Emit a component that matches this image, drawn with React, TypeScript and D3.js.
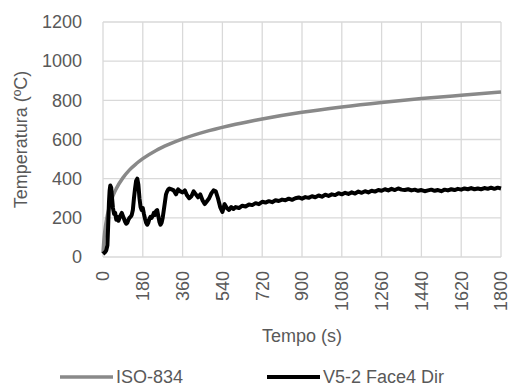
import React from "react";
import * as d3 from "d3";

const xTicks = [0, 180, 360, 540, 720, 900, 1080, 1260, 1440, 1620, 1800];
const yTicks = [0, 200, 400, 600, 800, 1000, 1200];

const isoTime = [0, 5, 10, 15, 30, 45, 60, 90, 120, 150, 180, 240, 300, 360, 480, 600, 720, 900, 1080, 1260, 1440, 1620, 1800];
const isoTemp = [20, 97, 147, 185, 261, 312, 349, 404, 445, 476, 502, 544, 576, 603, 645, 678, 705, 739, 766, 789, 809, 826, 842];

const v5Time = [
  0, 5, 10, 15, 20, 23, 27, 30, 33, 37, 41, 45, 50, 55, 60, 65, 70, 75, 80, 85, 90, 95, 100, 105, 110, 115, 120, 125, 130, 135,
  140, 145, 150, 155, 160, 165, 170, 175, 180, 185, 190, 195, 200, 205, 210, 215, 220, 225, 230, 235, 240, 245, 250, 255, 260,
  265, 270, 275, 280, 285, 290, 295, 300, 310, 320, 330, 340, 350, 360, 370, 380, 390, 400, 410, 420, 430, 440, 450, 460, 470,
  480, 490, 500, 510, 520, 530, 540, 550, 560, 570, 580, 590, 600, 615, 630, 645, 660, 675, 690, 705, 720, 735, 750, 765, 780,
  795, 810, 825, 840, 855, 870, 885, 900, 915, 930, 945, 960, 975, 990, 1005, 1020, 1035, 1050, 1065, 1080, 1095, 1110, 1125,
  1140, 1155, 1170, 1185, 1200, 1215, 1230, 1245, 1260, 1275, 1290, 1305, 1320, 1335, 1350, 1365, 1380, 1395, 1410, 1425, 1440,
  1455, 1470, 1485, 1500, 1515, 1530, 1545, 1560, 1575, 1590, 1605, 1620, 1635, 1650, 1665, 1680, 1695, 1710, 1725, 1740, 1755,
  1770, 1785, 1800,
];
const v5Temp = [
  15, 20, 25, 35, 60, 150, 280, 340, 365, 355, 300, 250, 220, 225, 190, 205, 185, 200, 215, 225, 210, 195, 180, 170, 175, 190, 200, 205, 215, 240,
  300, 350, 390, 400, 370, 300, 255, 240, 250, 220, 195, 175, 165, 175, 195, 205, 200, 210, 225, 215, 235, 240, 210, 180, 165,
  175, 200, 240, 280, 320, 335, 345, 350, 345, 340, 320, 345, 335, 330, 340, 315, 300, 310, 335, 320, 305, 320, 290, 270, 285,
  300, 325, 340, 335, 300, 255, 230, 270, 250, 240, 255, 245, 255, 250, 262, 258, 268, 265, 275, 270, 282, 278, 285, 280, 290,
  286, 293, 290, 298, 292, 300, 304, 298, 306, 302, 310, 305, 314, 308, 318, 312, 320, 316, 326, 320, 328, 322, 330,
  324, 334, 328, 336, 330, 338, 334, 342, 338, 346, 340, 348, 342, 350, 344, 342, 346, 340, 344, 338, 342,
  336, 340, 344, 338, 342, 336, 344, 340, 346, 342, 348, 344, 350, 346, 352, 346, 350, 346, 352, 348, 354,
  348, 354, 350,
];

const seriesNames = ["ISO-834", "V5-2 Face4 Dir"];

const W = 510;
const H = 388;
const L = 103;
const R = 501;
const T = 22;
const B = 257;
const font = "'Liberation Sans', Arial, sans-serif";
const textColor = "#595959";

export default function App() {
  const x = d3.scaleLinear().domain([0, 1800]).range([L, R]);
  const y = d3.scaleLinear().domain([0, 1200]).range([B, T]);
  const line = d3
    .line<[number, number]>()
    .x((d) => x(d[0]))
    .y((d) => y(d[1]));
  const isoLine = d3
    .line<[number, number]>()
    .x((d) => x(d[0]))
    .y((d) => y(d[1]))
    .curve(d3.curveMonotoneX);
  const isoData = isoTime.map((t, i) => [t, isoTemp[i]] as [number, number]);
  const v5Data = v5Time.map((t, i) => [t, v5Temp[i]] as [number, number]);

  return (
    <svg width={W} height={H} style={{ position: "absolute", left: 0, top: 0, background: "#fff" }} fontFamily={font}>
      <rect width={W} height={H} fill="#fff" />
      {yTicks.map((v) => (
        <line key={"gy" + v} x1={L} x2={R} y1={y(v)} y2={y(v)} stroke="#d9d9d9" strokeWidth={1.3} />
      ))}
      {xTicks.map((v) => (
        <line key={"gx" + v} x1={x(v)} x2={x(v)} y1={T} y2={B} stroke="#d9d9d9" strokeWidth={1.3} />
      ))}
      {yTicks.map((v) => (
        <text key={"ty" + v} x={82} y={y(v)} dy="0.35em" textAnchor="end" fontSize={18} fill={textColor}>
          {v}
        </text>
      ))}
      {xTicks.map((v) => (
        <text
          key={"tx" + v}
          transform={`translate(${x(v)},${271}) rotate(-90)`}
          textAnchor="end"
          dy="0.35em"
          fontSize={18}
          fill={textColor}
        >
          {v}
        </text>
      ))}
      <path d={isoLine(isoData) || ""} fill="none" stroke="#898989" strokeWidth={3.5} />
      <path d={line(v5Data) || ""} fill="none" stroke="#000" strokeWidth={4} strokeLinejoin="round" />
      <text
        transform={`translate(${21},${(T + B) / 2}) rotate(-90)`}
        textAnchor="middle"
        dy="0.35em"
        fontSize={18}
        fill={textColor}
      >
        Temperatura (ºC)
      </text>
      <text x={(L + R) / 2} y={342} textAnchor="middle" fontSize={18} fill={textColor}>
        Tempo (s)
      </text>
      <line x1={60} x2={113} y1={377} y2={377} stroke="#898989" strokeWidth={3.5} />
      <text x={116} y={377} dy="0.35em" fontSize={18} fill={textColor}>
        {seriesNames[0]}
      </text>
      <line x1={267} x2={320} y1={377} y2={377} stroke="#000" strokeWidth={4} />
      <text x={323} y={377} dy="0.35em" fontSize={18} fill={textColor}>
        {seriesNames[1]}
      </text>
    </svg>
  );
}
